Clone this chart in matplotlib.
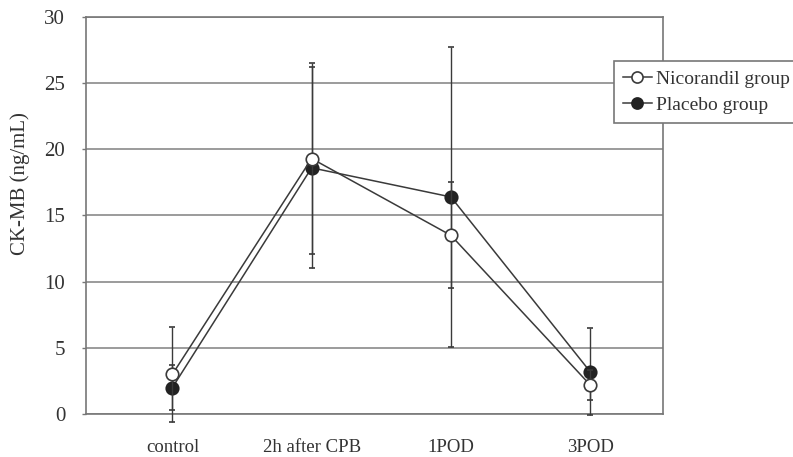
import matplotlib.pyplot as plt
from matplotlib.lines import Line2D

# CK-MB mean and SD at each time point
timepoints = ["control", "2h after CPB", "1POD", "3POD"]
nicorandil_mean = [3.0, 19.3, 13.5, 2.2]
nicorandil_sd = [3.6, 7.2, 4.0, 1.15]
placebo_mean = [2.0, 18.6, 16.4, 3.2]
placebo_sd = [1.7, 7.6, 11.3, 3.3]

plt.rcParams["font.family"] = ["Liberation Serif", "DejaVu Serif"]

fig = plt.figure(figsize=(7.93, 4.57), dpi=100)
ax = fig.add_axes([0.1085, 0.094, 0.727, 0.869])

x = list(range(len(timepoints)))
line_col = "#3a3a3a"
fill_col = "#222222"

ax.errorbar(x, nicorandil_mean, yerr=nicorandil_sd, color=line_col, lw=1.1,
            elinewidth=1.0, capsize=2, marker="o", ms=9, mfc="white",
            mec=line_col, mew=1.2, clip_on=False, zorder=4)
ax.errorbar(x, placebo_mean, yerr=placebo_sd, color=line_col, lw=1.1,
            elinewidth=1.0, capsize=2, marker="o", ms=9, mfc=fill_col,
            mec=fill_col, mew=1.2, clip_on=False, zorder=3)

ax.set_xlim(-0.62, 3.52)
ax.set_ylim(0, 30)
ax.set_yticks(range(0, 31, 5))
ax.set_xticks(x)
ax.set_xticklabels(timepoints)
ax.tick_params(axis="x", length=0, pad=18, labelsize=13.5, colors="#333333")
ax.tick_params(axis="y", length=3, width=1, pad=12, labelsize=15,
               colors="#333333", color="#777777")
ax.grid(axis="y", color="#8a8a8a", lw=1.2)
ax.set_axisbelow(True)
for s in ax.spines.values():
    s.set_color("#777777")
    s.set_linewidth(1.2)

ax.set_ylabel("CK-MB (ng/mL)", fontsize=15, color="#333333")
ax.yaxis.set_label_coords(-0.097, 0.58)

handles = [
    Line2D([], [], color=line_col, lw=1.1, marker="o", ms=8, mfc="white",
           mec=line_col, mew=1.2),
    Line2D([], [], color=line_col, lw=1.1, marker="o", ms=8, mfc=fill_col,
           mec=fill_col, mew=1.2),
]
leg = fig.legend(handles, ["Nicorandil group", "Placebo group"],
                 loc="upper left", bbox_to_anchor=(0.774, 0.866),
                 fontsize=14, handlelength=1.5, handletextpad=0.2,
                 borderpad=0.45, labelspacing=0.45, fancybox=False,
                 framealpha=1, edgecolor="#777777", borderaxespad=0)
leg.get_frame().set_linewidth(1.2)
for t in leg.get_texts():
    t.set_color("#333333")

fig.savefig("out.png", dpi=100)
